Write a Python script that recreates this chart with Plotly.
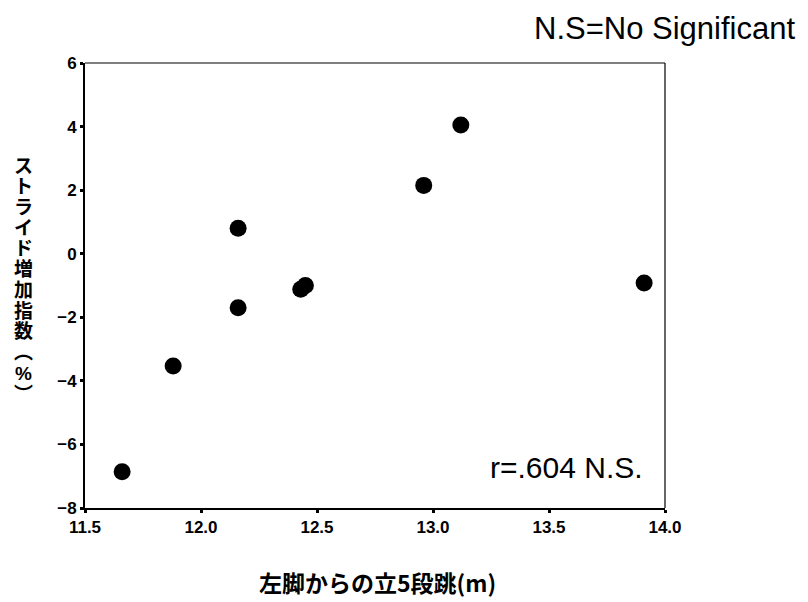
import plotly.graph_objects as go

# Data
jump_m = [11.66, 11.88, 12.16, 12.16, 12.43, 12.45, 12.96, 13.12, 13.91]
stride_pct = [-6.86, -3.53, 0.80, -1.70, -1.12, -1.00, 2.15, 4.05, -0.92]

x_ticks = [11.5, 12.0, 12.5, 13.0, 13.5, 14.0]
y_ticks = [-8, -6, -4, -2, 0, 2, 4, 6]
y_title_chars = ["ス", "ト", "ラ", "イ", "ド", "増", "加", "指", "数", "︵", "%", "︶"]
x_title = "左脚からの立5段跳(m)"
note_text = "N.S=No Significant"
r_text = "r=.604 N.S."

W, H = 808, 602
L, R, T, B = 85, 143, 63, 94
PH = H - T - B
PW = W - L - R

fig = go.Figure()
fig.add_trace(go.Scatter(
    x=jump_m, y=stride_pct, mode="markers",
    marker=dict(size=17, color="black"),
    showlegend=False, hoverinfo="x+y",
))

tick_font = dict(family="Liberation Sans, Arial, sans-serif", size=17, color="black")
fig.update_layout(
    width=W, height=H,
    margin=dict(l=L, r=R, t=T, b=B),
    paper_bgcolor="white", plot_bgcolor="white",
    xaxis=dict(
        range=[11.5, 14.0], tickvals=x_ticks,
        ticktext=[f"<b>{v:.1f}</b>" for v in x_ticks],
        showgrid=False, zeroline=False,
        showline=True, linecolor="black", linewidth=2,
        ticks="outside", ticklen=3, tickwidth=3, tickcolor="black",
        tickfont=tick_font,
    ),
    yaxis=dict(
        range=[-8, 6], tickvals=y_ticks,
        ticktext=[f"<b>{'−' if v < 0 else ''}{abs(v)}</b>" for v in y_ticks],
        showgrid=False, zeroline=False,
        showline=True, linecolor="black", linewidth=2,
        ticks="outside", ticklen=3, tickwidth=3, tickcolor="black",
        tickfont=tick_font,
    ),
    shapes=[
        dict(type="line", xref="paper", yref="paper", x0=0, x1=1, y0=1, y1=1,
             line=dict(color="black", width=1.2)),
        dict(type="line", xref="paper", yref="paper", x0=1, x1=1, y0=0, y1=1,
             line=dict(color="black", width=1.2)),
    ],
)

annotations = []
# vertical y-axis title: one upright character per position
top_c, bot_c = 166.0, 394.0
n = len(y_title_chars)
for i, ch in enumerate(y_title_chars):
    ypx = top_c + (bot_c - top_c) * i / (n - 1)
    annotations.append(dict(
        text=f"<b>{ch}</b>", xref="paper", yref="paper",
        x=(23 - L) / PW, y=(H - B - ypx) / PH,
        xanchor="center", yanchor="middle", showarrow=False,
        font=dict(family="Liberation Sans, Noto Sans CJK JP", size=19, color="black"),
    ))

annotations += [
    dict(
        text=f"<b>{x_title}</b>", xref="paper", yref="paper",
        x=(377 - L) / PW, y=(H - B - 582) / PH,
        xanchor="center", yanchor="middle", showarrow=False,
        font=dict(family="Noto Sans CJK JP", size=23, color="black"),
    ),
    dict(
        text=note_text, xref="paper", yref="paper",
        x=(797 - L) / PW, y=(H - B - 29) / PH,
        xanchor="right", yanchor="middle", showarrow=False,
        font=dict(family="Liberation Sans, Arial, sans-serif", size=31, color="black"),
    ),
    dict(
        text=r_text, xref="paper", yref="paper",
        x=(645 - L) / PW, y=(H - B - 467) / PH,
        xanchor="right", yanchor="middle", showarrow=False,
        font=dict(family="Liberation Sans, Arial, sans-serif", size=30, color="black"),
    ),
]
fig.update_layout(annotations=annotations)

fig.write_html("out.html")
